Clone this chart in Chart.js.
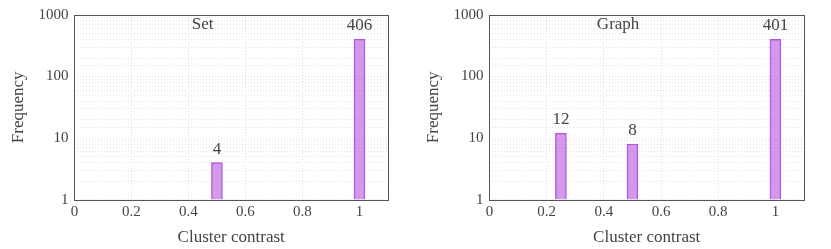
<!DOCTYPE html>
<html lang="en">
<head>
  <meta charset="UTF-8">
  <title>Cluster contrast histograms</title>
  <script src="https://cdn.jsdelivr.net/npm/chart.js"></script>
  <style>
    * { box-sizing: border-box; margin: 0; padding: 0; }
    body { background: #fff; width: 831px; height: 249px; overflow: hidden; display: flex; }
    .panel { width: 415px; height: 249px; position: relative; }
    .panel + .panel { width: 416px; }
  </style>
</head>
<body>

<div class="panel"><canvas id="setChart" width="415" height="249"></canvas></div>
<div class="panel"><canvas id="graphChart" width="416" height="249"></canvas></div>

<script>
  // data
  const xTicks = [0, 0.2, 0.4, 0.6, 0.8, 1];
  const yTicks = [1, 10, 100, 1000];

  const setContrast = [0.5, 1.0];
  const setFreq = [4, 406];

  const graphContrast = [0.25, 0.5, 1.0];
  const graphFreq = [12, 8, 401];

  const serif = "'Liberation Serif', 'DejaVu Serif', serif";
  const textColor = '#444';

  // frame around the plot area
  const framePlugin = {
    id: 'frame',
    afterDraw(chart) {
      const a = chart.chartArea, c = chart.ctx;
      c.save();
      c.strokeStyle = '#555';
      c.lineWidth = 1;
      c.strokeRect(Math.round(a.left) + 0.5, Math.round(a.top) + 0.5,
        Math.round(a.right - a.left), Math.round(a.bottom - a.top));
      c.restore();
    }
  };

  // counts above each bar + panel title inside the plot
  const labelPlugin = {
    id: 'barLabels',
    afterDatasetsDraw(chart, args, opts) {
      const c = chart.ctx;
      c.save();
      c.fillStyle = textColor;
      c.font = '17px ' + serif;
      c.textAlign = 'center';
      c.textBaseline = 'bottom';
      chart.getDatasetMeta(0).data.forEach((bar, i) => {
        c.fillText(chart.data.datasets[0].data[i].y, bar.x, bar.y - 5);
      });
      c.textBaseline = 'top';
      c.fillText(opts.text, chart.scales.x.getPixelForValue(opts.at), chart.chartArea.top + 1);
      c.restore();
    }
  };

  function makeChart(id, name, xs, ys) {
    return new Chart(document.getElementById(id), {
      type: 'bar',
      data: {
        datasets: [{
          data: xs.map((x, i) => ({ x: x, y: ys[i] })),
          backgroundColor: 'rgba(196, 120, 230, 0.75)',
          borderColor: '#b453dc',
          borderWidth: 1,
          barThickness: 11,
          borderSkipped: 'bottom'
        }]
      },
      options: {
        responsive: false,
        animation: false,
        layout: { padding: { left: 8, top: 8, right: 27, bottom: 1 } },
        plugins: {
          legend: { display: false },
          tooltip: { enabled: false },
          barLabels: { text: name, at: 0.45 }
        },
        scales: {
          x: {
            type: 'linear',
            offset: false,
            min: 0,
            max: 1.1,
            afterBuildTicks: s => { s.ticks = xTicks.map(v => ({ value: v })); },
            ticks: {
              color: textColor,
              font: { family: serif, size: 15 },
              padding: 3,
              maxRotation: 0,
              callback: v => String(+v.toFixed(1))
            },
            grid: { color: '#dcdcdc', drawTicks: false, offset: false },
            border: { display: false, dash: [1, 2] },
            title: {
              display: true,
              text: 'Cluster contrast',
              color: textColor,
              font: { family: serif, size: 17 },
              padding: { top: 4, bottom: 0 }
            }
          },
          y: {
            type: 'logarithmic',
            min: 1,
            max: 1000,
            ticks: {
              autoSkip: false,
              color: textColor,
              font: { family: serif, size: 15 },
              padding: 6,
              callback: v => yTicks.includes(v) ? String(v) : ''
            },
            grid: { color: '#e4e4e4', drawTicks: false },
            border: { display: false, dash: [1, 2] },
            title: {
              display: true,
              text: 'Frequency',
              color: textColor,
              font: { family: serif, size: 17 },
              padding: { top: 0, bottom: 4 }
            }
          }
        }
      },
      plugins: [framePlugin, labelPlugin]
    });
  }

  makeChart('setChart', 'Set', setContrast, setFreq);
  makeChart('graphChart', 'Graph', graphContrast, graphFreq);
</script>

</body>
</html>
